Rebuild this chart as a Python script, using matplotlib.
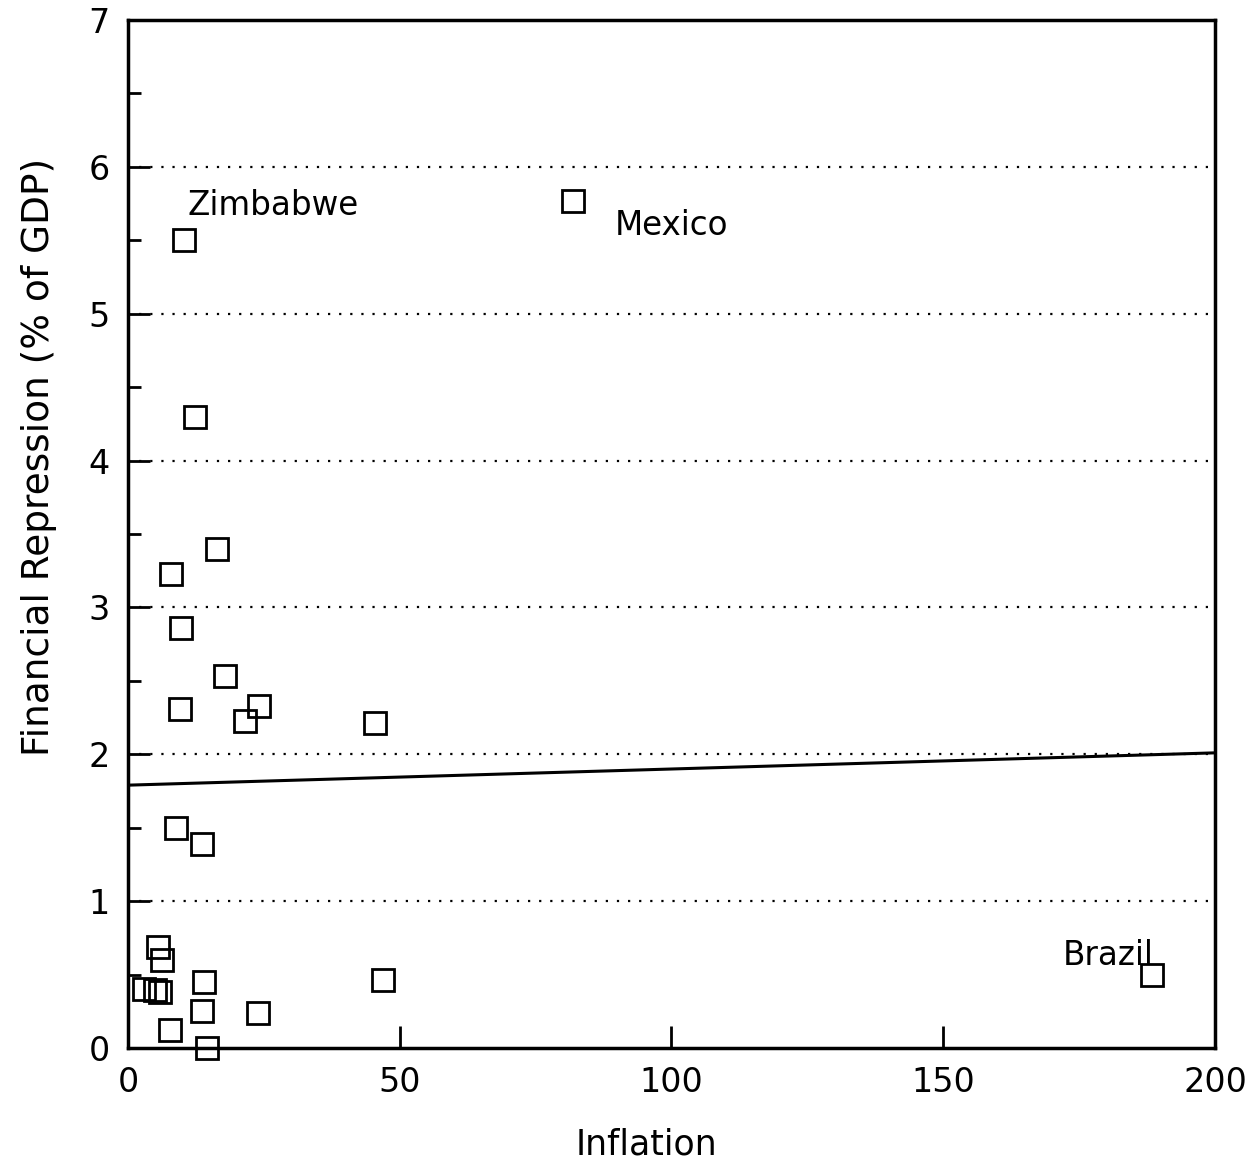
import numpy as np
import matplotlib.pyplot as plt
from matplotlib.ticker import MultipleLocator

# inflation (%) and financial repression (% of GDP)
inflation = [10.3, 81.9, 12.3, 16.4, 7.9, 9.75, 17.8, 9.6, 24.1, 21.5, 45.4,
             8.8, 13.6, 5.5, 6.2, 2.9, 5.0, 5.9, 14.0, 13.7, 7.7, 14.5,
             23.9, 47.0, 188.4]
repression = [5.50, 5.77, 4.30, 3.40, 3.23, 2.86, 2.53, 2.31, 2.33, 2.23, 2.21,
              1.50, 1.39, 0.69, 0.60, 0.40, 0.395, 0.38, 0.45, 0.25, 0.12, 0.0,
              0.24, 0.46, 0.50]

# fitted line
fit_intercept = 1.79
fit_slope = 0.0011

labels = ['Zimbabwe', 'Mexico', 'Brazil']
label_x = [11.0, 89.5, 172.0]
label_y = [5.74, 5.60, 0.63]

plt.rcParams['font.family'] = ['DejaVu Sans']
fig = plt.figure(figsize=(12.58, 11.65), dpi=100)
ax = fig.add_axes([0.1017, 0.1004, 0.8641, 0.8824])

for yy in range(1, 7):
    ax.axhline(yy, color='black', linestyle=(0, (1, 4)), linewidth=1.6, zorder=1)

xs = np.array([0, 200])
ax.plot(xs, fit_intercept + fit_slope * xs, color='black', linewidth=2.2, zorder=2)

ax.plot(inflation, repression, 's', markersize=16.5, markerfacecolor='none',
        markeredgecolor='black', markeredgewidth=2, clip_on=False, zorder=3)

for t, x, y in zip(labels, label_x, label_y):
    ax.text(x, y, t, fontsize=23.5, va='center', ha='left')

ax.set_xlim(0, 200)
ax.set_ylim(0, 7)
ax.xaxis.set_major_locator(MultipleLocator(50))
ax.yaxis.set_major_locator(MultipleLocator(1))
ax.yaxis.set_minor_locator(MultipleLocator(0.5))
ax.tick_params(axis='both', which='major', direction='in', length=16, width=2,
               labelsize=24, pad=13)
ax.tick_params(axis='y', which='minor', direction='in', length=9, width=2)
for s in ax.spines.values():
    s.set_linewidth(2.5)

ax.set_xlabel('Inflation', fontsize=25)
ax.set_ylabel('Financial Repression (% of GDP)', fontsize=27)
ax.xaxis.set_label_coords(0.4766, -0.077)
ax.yaxis.set_label_coords(-0.065, 0.575)

plt.savefig('out.png', dpi=100)
